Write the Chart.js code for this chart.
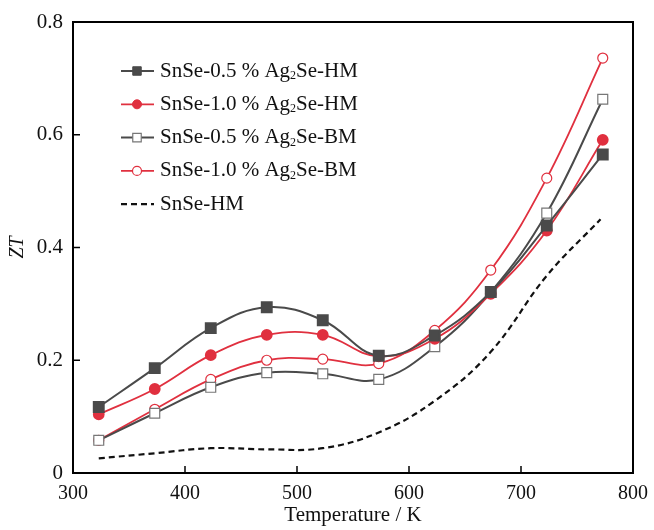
<!DOCTYPE html>
<html>
<head>
<meta charset="utf-8">
<script src="https://cdn.jsdelivr.net/npm/chart.js@4"></script>
<style>
  html, body { margin: 0; padding: 0; background: #fff; }
  #box { width: 654px; height: 530px; }
</style>
</head>
<body>
<div id="box"><canvas id="myChart"></canvas></div>
<script>
var temps = [323, 373, 423, 473, 523, 573, 623, 673, 723, 773];
var hm05 = [0.117, 0.186, 0.257, 0.294, 0.271, 0.208, 0.244, 0.321, 0.439, 0.565];
var hm10 = [0.104, 0.149, 0.209, 0.245, 0.245, 0.207, 0.238, 0.318, 0.430, 0.591];
var bm05 = [0.058, 0.106, 0.152, 0.178, 0.176, 0.166, 0.224, 0.321, 0.461, 0.663];
var bm10 = [0.058, 0.113, 0.166, 0.200, 0.202, 0.194, 0.253, 0.360, 0.523, 0.736];
var pureTemps = [323, 373, 423, 473, 523, 573, 623, 673, 723, 771];
var pureHM = [0.026, 0.035, 0.044, 0.042, 0.044, 0.072, 0.128, 0.215, 0.350, 0.450];
var xTicks = [300, 400, 500, 600, 700, 800];
var yTicks = [0, 0.2, 0.4, 0.6, 0.8];

var GRAY = '#4a4a4a';
var RED = '#e0303f';
var FONT = '"Liberation Serif", "Times New Roman", serif';

function pts(xs, ys) {
  return xs.map(function(x, i) { return { x: x, y: ys[i] }; });
}

var datasets = [
  { label: 'SnSe-0.5 % Ag₂Se-HM', data: pts(temps, hm05), borderColor: GRAY, backgroundColor: GRAY,
    pointStyle: 'rect', pointRadius: 7, pointBorderColor: GRAY, pointBackgroundColor: GRAY, borderWidth: 2 },
  { label: 'SnSe-1.0 % Ag₂Se-HM', data: pts(temps, hm10), borderColor: RED, backgroundColor: RED,
    pointStyle: 'circle', pointRadius: 5, pointBorderColor: RED, pointBackgroundColor: RED, borderWidth: 1.8 },
  { label: 'SnSe-0.5 % Ag₂Se-BM', data: pts(temps, bm05), borderColor: GRAY, backgroundColor: '#fff',
    pointStyle: 'rect', pointRadius: 7, pointBorderColor: '#777', pointBackgroundColor: '#fff', pointBorderWidth: 1.2, borderWidth: 2 },
  { label: 'SnSe-1.0 % Ag₂Se-BM', data: pts(temps, bm10), borderColor: RED, backgroundColor: '#fff',
    pointStyle: 'circle', pointRadius: 5, pointBorderColor: RED, pointBackgroundColor: '#fff', pointBorderWidth: 1.2, borderWidth: 1.8 },
  { label: 'SnSe-HM', data: pts(pureTemps, pureHM), borderColor: '#111', borderDash: [6, 4],
    pointRadius: 0, borderWidth: 2.2 }
];

// frame, inner ticks and the legend
var decor = {
  id: 'decor',
  afterDatasetsDraw: function(chart) {
    var c = chart.ctx, a = chart.chartArea;
    var xs = chart.scales.x, ys = chart.scales.y;
    c.save();
    c.strokeStyle = '#000';
    c.lineWidth = 2;
    c.strokeRect(a.left, a.top, a.right - a.left, a.bottom - a.top);
    c.lineWidth = 1.5;
    xTicks.forEach(function(v) {
      var px = xs.getPixelForValue(v);
      c.beginPath(); c.moveTo(px, a.bottom); c.lineTo(px, a.bottom - 7); c.stroke();
    });
    yTicks.forEach(function(v) {
      var py = ys.getPixelForValue(v);
      c.beginPath(); c.moveTo(a.left, py); c.lineTo(a.left + 7, py); c.stroke();
    });

    chart.data.datasets.forEach(function(ds, i) {
      var y = 71 + i * 33.3;
      c.strokeStyle = ds.borderColor;
      c.lineWidth = ds.borderWidth;
      c.setLineDash(ds.borderDash || []);
      c.beginPath(); c.moveTo(121, y); c.lineTo(154, y); c.stroke();
      c.setLineDash([]);
      if (ds.pointRadius > 0) {
        c.fillStyle = ds.pointBackgroundColor;
        c.strokeStyle = ds.pointBorderColor;
        c.lineWidth = ds.pointBorderWidth || 1;
        Chart.helpers.drawPoint(c, { pointStyle: ds.pointStyle, radius: ds.pointStyle === 'rect' ? 6 : 4.5, rotation: 0, borderWidth: c.lineWidth }, 137, y);
      }
      // text with subscript 2
      var x = 160;
      c.fillStyle = '#111';
      c.textBaseline = 'middle';
      ds.label.split('₂').forEach(function(part, k) {
        if (k > 0) {
          c.font = '12px ' + FONT;
          c.fillText('2', x, y + 5);
          x += c.measureText('2').width;
        }
        c.font = '21px ' + FONT;
        c.fillText(part, x, y);
        x += c.measureText(part).width;
      });
    });
    c.restore();
  }
};

var config = {
  type: 'line',
  data: { datasets: datasets },
  options: {
    responsive: true,
    maintainAspectRatio: false,
    animation: false,
    layout: { padding: { top: 22, right: 21, left: 0, bottom: 0 } },
    elements: { line: { tension: 0.4 } },
    plugins: { legend: { display: false }, tooltip: { enabled: false } },
    scales: {
      x: {
        type: 'linear', min: 300, max: 800,
        afterBuildTicks: function(s) { s.ticks = xTicks.map(function(v) { return { value: v }; }); },
        grid: { display: false, drawTicks: false },
        border: { display: false },
        ticks: { color: '#111', padding: 9, font: { family: FONT, size: 20 }, maxRotation: 0 },
        title: { display: true, text: 'Temperature / K', color: '#111', padding: { top: 0, bottom: 2 }, font: { family: FONT, size: 21 } },
        afterFit: function(s) { s.height = 57; s.paddingLeft = 0; s.paddingRight = 0; }
      },
      y: {
        min: 0, max: 0.8,
        afterBuildTicks: function(s) { s.ticks = yTicks.map(function(v) { return { value: v }; }); },
        grid: { display: false, drawTicks: false },
        border: { display: false },
        ticks: { color: '#111', padding: 10, font: { family: FONT, size: 21 } },
        title: { display: true, text: 'ZT', color: '#111', padding: { top: 6, bottom: 0 }, font: { family: FONT, size: 20, style: 'italic' } },
        afterFit: function(s) { s.width = 73; s.paddingTop = 0; s.paddingBottom = 0; }
      }
    }
  },
  plugins: [decor]
};

var myChart = new Chart(document.getElementById('myChart').getContext('2d'), config);
</script>
</body>
</html>
